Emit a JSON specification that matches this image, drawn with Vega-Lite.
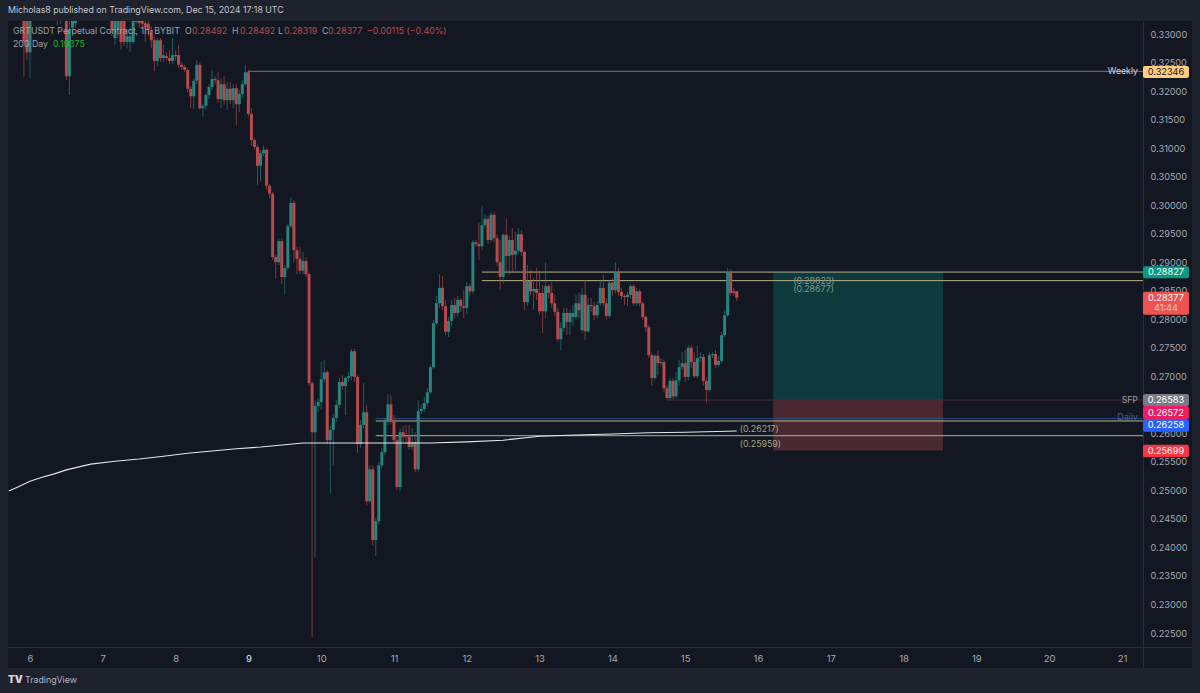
{
"$schema":"https://vega.github.io/schema/vega-lite/v6.json",
"autosize":{"type":"none"},
"padding":{"left":8,"top":21,"right":8,"bottom":25},
"width":1184,
"height":647,
"background":"#1e222d",
"title":{"text":"Micholas8 published on TradingView.com, Dec 15, 2024 17:18 UTC","anchor":"start","frame":"group","offset":6,"font":"Inter","fontSize":8.8,"fontWeight":"normal","color":"#c4c6ce"},
"config":{"view":{"fill":"#131722","stroke":null},"axis":{"title":null,"grid":false,"ticks":false,"domainColor":"#2a2e39"},"font":"Inter"},
"datasets":{
"boxes":[
{"start":"2024-12-16T05:00","end":"2024-12-18T13:00","top":0.28827,"bot":0.26583,"role":"greenbox"},
{"start":"2024-12-16T05:00","end":"2024-12-18T13:00","top":0.26583,"bot":0.25699,"role":"redbox"}],
"levels":[
{"start":"2024-12-09T00:00","end":"2024-12-21T06:55","p":0.32346,"role":"weekly"},
{"start":"2024-12-12T05:00","end":"2024-12-21T06:55","p":0.28827,"role":"level"},
{"start":"2024-12-12T05:00","end":"2024-12-21T06:55","p":0.28677,"role":"level"},
{"start":"2024-12-14T18:00","end":"2024-12-21T06:55","p":0.26583,"role":"sfp"},
{"start":"2024-12-10T18:00","end":"2024-12-21T06:55","p":0.26258,"role":"daily"},
{"start":"2024-12-10T18:00","end":"2024-12-21T06:55","p":0.26217,"role":"level"},
{"start":"2024-12-10T18:00","end":"2024-12-21T06:55","p":0.25959,"role":"level"}],
"candles":[
{"t":"2024-12-05T22:00","o":0.3342,"h":0.335,"l":0.3225,"c":0.3286},
{"t":"2024-12-05T23:00","o":0.3342,"h":0.335,"l":0.3254,"c":0.3268},
{"t":"2024-12-06T00:00","o":0.3268,"h":0.335,"l":0.3223,"c":0.3342},
{"t":"2024-12-06T09:00","o":0.3342,"h":0.335,"l":0.3316,"c":0.3323},
{"t":"2024-12-06T10:00","o":0.3323,"h":0.335,"l":0.3318,"c":0.3342},
{"t":"2024-12-06T12:00","o":0.3342,"h":0.335,"l":0.3219,"c":0.3226},
{"t":"2024-12-06T13:00","o":0.3226,"h":0.3342,"l":0.3193,"c":0.3307},
{"t":"2024-12-06T14:00","o":0.3311,"h":0.3342,"l":0.3302,"c":0.3333},
{"t":"2024-12-06T15:00","o":0.3319,"h":0.3342,"l":0.3311,"c":0.3333},
{"t":"2024-12-07T03:00","o":0.3342,"h":0.335,"l":0.3296,"c":0.3307},
{"t":"2024-12-07T04:00","o":0.3293,"h":0.3342,"l":0.3281,"c":0.3335},
{"t":"2024-12-07T05:00","o":0.3307,"h":0.335,"l":0.3293,"c":0.3342},
{"t":"2024-12-07T06:00","o":0.3335,"h":0.3342,"l":0.3272,"c":0.3286},
{"t":"2024-12-07T07:00","o":0.3335,"h":0.3342,"l":0.3279,"c":0.3286},
{"t":"2024-12-07T08:00","o":0.3286,"h":0.3307,"l":0.3275,"c":0.3296},
{"t":"2024-12-07T09:00","o":0.3286,"h":0.3311,"l":0.3268,"c":0.3296},
{"t":"2024-12-07T10:00","o":0.3286,"h":0.3335,"l":0.3282,"c":0.3325},
{"t":"2024-12-07T11:00","o":0.3321,"h":0.3333,"l":0.3318,"c":0.3326},
{"t":"2024-12-07T12:00","o":0.3326,"h":0.3333,"l":0.3311,"c":0.3319},
{"t":"2024-12-07T13:00","o":0.3325,"h":0.3328,"l":0.3311,"c":0.3318},
{"t":"2024-12-07T14:00","o":0.3319,"h":0.3325,"l":0.3286,"c":0.3312},
{"t":"2024-12-07T15:00","o":0.3318,"h":0.3323,"l":0.3296,"c":0.3307},
{"t":"2024-12-07T16:00","o":0.3307,"h":0.3314,"l":0.3275,"c":0.3289},
{"t":"2024-12-07T17:00","o":0.3289,"h":0.3296,"l":0.3235,"c":0.3253},
{"t":"2024-12-07T18:00","o":0.3253,"h":0.3293,"l":0.3244,"c":0.3289},
{"t":"2024-12-07T19:00","o":0.3289,"h":0.3293,"l":0.3251,"c":0.3258},
{"t":"2024-12-07T20:00","o":0.3258,"h":0.3281,"l":0.3251,"c":0.3263},
{"t":"2024-12-07T21:00","o":0.3261,"h":0.3268,"l":0.3254,"c":0.3258},
{"t":"2024-12-07T22:00","o":0.3258,"h":0.3272,"l":0.3247,"c":0.3253},
{"t":"2024-12-07T23:00","o":0.3253,"h":0.3293,"l":0.3247,"c":0.3263},
{"t":"2024-12-08T00:00","o":0.3261,"h":0.3272,"l":0.3254,"c":0.3263},
{"t":"2024-12-08T01:00","o":0.3263,"h":0.3281,"l":0.324,"c":0.3246},
{"t":"2024-12-08T02:00","o":0.3246,"h":0.3251,"l":0.3237,"c":0.3242},
{"t":"2024-12-08T03:00","o":0.3242,"h":0.3246,"l":0.3233,"c":0.3237},
{"t":"2024-12-08T04:00","o":0.3237,"h":0.324,"l":0.3198,"c":0.3204},
{"t":"2024-12-08T05:00","o":0.3204,"h":0.3209,"l":0.317,"c":0.3191},
{"t":"2024-12-08T06:00","o":0.3191,"h":0.3223,"l":0.3169,"c":0.3218},
{"t":"2024-12-08T07:00","o":0.3218,"h":0.3254,"l":0.3212,"c":0.3246},
{"t":"2024-12-08T08:00","o":0.3246,"h":0.3251,"l":0.3167,"c":0.317},
{"t":"2024-12-08T09:00","o":0.317,"h":0.3177,"l":0.3155,"c":0.3174},
{"t":"2024-12-08T10:00","o":0.3174,"h":0.3197,"l":0.3167,"c":0.3193},
{"t":"2024-12-08T11:00","o":0.3193,"h":0.3212,"l":0.3186,"c":0.3207},
{"t":"2024-12-08T12:00","o":0.3207,"h":0.3237,"l":0.3202,"c":0.3221},
{"t":"2024-12-08T13:00","o":0.3221,"h":0.3225,"l":0.3212,"c":0.3219},
{"t":"2024-12-08T14:00","o":0.3219,"h":0.3233,"l":0.3179,"c":0.3186},
{"t":"2024-12-08T15:00","o":0.3186,"h":0.3223,"l":0.317,"c":0.3212},
{"t":"2024-12-08T16:00","o":0.3212,"h":0.3226,"l":0.3176,"c":0.3184},
{"t":"2024-12-08T17:00","o":0.3184,"h":0.3216,"l":0.3167,"c":0.3204},
{"t":"2024-12-08T18:00","o":0.3204,"h":0.3216,"l":0.3177,"c":0.3184},
{"t":"2024-12-08T19:00","o":0.3184,"h":0.3212,"l":0.317,"c":0.3205},
{"t":"2024-12-08T20:00","o":0.3205,"h":0.3212,"l":0.314,"c":0.3177},
{"t":"2024-12-08T21:00","o":0.3177,"h":0.3202,"l":0.3163,"c":0.3195},
{"t":"2024-12-08T22:00","o":0.3195,"h":0.3219,"l":0.3188,"c":0.3212},
{"t":"2024-12-08T23:00","o":0.3212,"h":0.3246,"l":0.3209,"c":0.3233},
{"t":"2024-12-09T00:00","o":0.3233,"h":0.3237,"l":0.3155,"c":0.316},
{"t":"2024-12-09T01:00","o":0.316,"h":0.317,"l":0.3104,"c":0.3114},
{"t":"2024-12-09T02:00","o":0.3114,"h":0.3118,"l":0.3097,"c":0.3102},
{"t":"2024-12-09T03:00","o":0.3102,"h":0.3107,"l":0.3035,"c":0.3069},
{"t":"2024-12-09T04:00","o":0.3069,"h":0.3097,"l":0.3041,"c":0.3091},
{"t":"2024-12-09T05:00","o":0.3091,"h":0.3105,"l":0.3086,"c":0.3097},
{"t":"2024-12-09T06:00","o":0.3097,"h":0.31,"l":0.3027,"c":0.3034},
{"t":"2024-12-09T07:00","o":0.3034,"h":0.3037,"l":0.3012,"c":0.302},
{"t":"2024-12-09T08:00","o":0.302,"h":0.3023,"l":0.2904,"c":0.2909},
{"t":"2024-12-09T09:00","o":0.2909,"h":0.2914,"l":0.2872,"c":0.29},
{"t":"2024-12-09T10:00","o":0.29,"h":0.2942,"l":0.2895,"c":0.2937},
{"t":"2024-12-09T11:00","o":0.2937,"h":0.2942,"l":0.2862,"c":0.2874},
{"t":"2024-12-09T12:00","o":0.2874,"h":0.2895,"l":0.2844,"c":0.289},
{"t":"2024-12-09T13:00","o":0.289,"h":0.2967,"l":0.2886,"c":0.2963},
{"t":"2024-12-09T14:00","o":0.2963,"h":0.3014,"l":0.296,"c":0.3004},
{"t":"2024-12-09T15:00","o":0.3004,"h":0.3009,"l":0.29,"c":0.2921},
{"t":"2024-12-09T16:00","o":0.2921,"h":0.2927,"l":0.2879,"c":0.2906},
{"t":"2024-12-09T17:00","o":0.2906,"h":0.2927,"l":0.2879,"c":0.2885},
{"t":"2024-12-09T18:00","o":0.2885,"h":0.2918,"l":0.2879,"c":0.2902},
{"t":"2024-12-09T19:00","o":0.2902,"h":0.2909,"l":0.2874,"c":0.2879},
{"t":"2024-12-09T20:00","o":0.2879,"h":0.2882,"l":0.2683,"c":0.2688},
{"t":"2024-12-09T21:00","o":0.2688,"h":0.2691,"l":0.2243,"c":0.2602},
{"t":"2024-12-09T22:00","o":0.2602,"h":0.2658,"l":0.2383,"c":0.2648},
{"t":"2024-12-09T23:00","o":0.2648,"h":0.2662,"l":0.2637,"c":0.2655},
{"t":"2024-12-10T00:00","o":0.2655,"h":0.2725,"l":0.2641,"c":0.2695},
{"t":"2024-12-10T01:00","o":0.2695,"h":0.2729,"l":0.269,"c":0.2707},
{"t":"2024-12-10T02:00","o":0.2707,"h":0.2711,"l":0.2581,"c":0.2588},
{"t":"2024-12-10T03:00","o":0.2588,"h":0.2613,"l":0.2495,"c":0.2606},
{"t":"2024-12-10T04:00","o":0.2606,"h":0.2634,"l":0.2544,"c":0.2627},
{"t":"2024-12-10T05:00","o":0.2627,"h":0.2658,"l":0.262,"c":0.265},
{"t":"2024-12-10T06:00","o":0.265,"h":0.2697,"l":0.2644,"c":0.269},
{"t":"2024-12-10T07:00","o":0.269,"h":0.2702,"l":0.2676,"c":0.2683},
{"t":"2024-12-10T08:00","o":0.2683,"h":0.27,"l":0.2632,"c":0.2697},
{"t":"2024-12-10T09:00","o":0.2697,"h":0.2707,"l":0.269,"c":0.27},
{"t":"2024-12-10T10:00","o":0.27,"h":0.2748,"l":0.2693,"c":0.2744},
{"t":"2024-12-10T11:00","o":0.2744,"h":0.2748,"l":0.269,"c":0.2699},
{"t":"2024-12-10T12:00","o":0.2699,"h":0.2702,"l":0.2566,"c":0.2581},
{"t":"2024-12-10T13:00","o":0.2581,"h":0.2623,"l":0.2574,"c":0.2615},
{"t":"2024-12-10T14:00","o":0.2615,"h":0.2688,"l":0.2609,"c":0.2637},
{"t":"2024-12-10T15:00","o":0.2637,"h":0.265,"l":0.2474,"c":0.2481},
{"t":"2024-12-10T16:00","o":0.2481,"h":0.2544,"l":0.2478,"c":0.2537},
{"t":"2024-12-10T17:00","o":0.2537,"h":0.2544,"l":0.2404,"c":0.2413},
{"t":"2024-12-10T18:00","o":0.2413,"h":0.2452,"l":0.2385,"c":0.2446},
{"t":"2024-12-10T19:00","o":0.2446,"h":0.255,"l":0.2441,"c":0.2544},
{"t":"2024-12-10T20:00","o":0.2544,"h":0.2574,"l":0.2539,"c":0.2567},
{"t":"2024-12-10T21:00","o":0.2567,"h":0.2627,"l":0.2562,"c":0.2622},
{"t":"2024-12-10T22:00","o":0.2622,"h":0.2669,"l":0.2615,"c":0.2651},
{"t":"2024-12-10T23:00","o":0.2651,"h":0.2667,"l":0.2616,"c":0.2623},
{"t":"2024-12-11T00:00","o":0.2623,"h":0.2632,"l":0.2581,"c":0.2588},
{"t":"2024-12-11T01:00","o":0.2588,"h":0.2595,"l":0.2501,"c":0.2506},
{"t":"2024-12-11T02:00","o":0.2506,"h":0.2609,"l":0.2499,"c":0.2602},
{"t":"2024-12-11T03:00","o":0.2602,"h":0.2613,"l":0.2585,"c":0.2594},
{"t":"2024-12-11T04:00","o":0.2595,"h":0.2615,"l":0.2585,"c":0.2594},
{"t":"2024-12-11T05:00","o":0.2594,"h":0.2615,"l":0.2571,"c":0.2576},
{"t":"2024-12-11T06:00","o":0.2576,"h":0.2609,"l":0.2571,"c":0.2585},
{"t":"2024-12-11T07:00","o":0.2585,"h":0.2602,"l":0.2532,"c":0.2537},
{"t":"2024-12-11T08:00","o":0.2537,"h":0.2658,"l":0.2532,"c":0.2639},
{"t":"2024-12-11T09:00","o":0.2639,"h":0.2651,"l":0.2634,"c":0.2643},
{"t":"2024-12-11T10:00","o":0.2643,"h":0.2664,"l":0.2637,"c":0.2653},
{"t":"2024-12-11T11:00","o":0.2653,"h":0.2679,"l":0.2648,"c":0.2672},
{"t":"2024-12-11T12:00","o":0.2672,"h":0.272,"l":0.2669,"c":0.2716},
{"t":"2024-12-11T13:00","o":0.2716,"h":0.2799,"l":0.2713,"c":0.2793},
{"t":"2024-12-11T14:00","o":0.2793,"h":0.2841,"l":0.279,"c":0.2828},
{"t":"2024-12-11T15:00","o":0.2828,"h":0.2879,"l":0.282,"c":0.2855},
{"t":"2024-12-11T16:00","o":0.2855,"h":0.2876,"l":0.2816,"c":0.2823},
{"t":"2024-12-11T17:00","o":0.2823,"h":0.2834,"l":0.2772,"c":0.2778},
{"t":"2024-12-11T18:00","o":0.2778,"h":0.2804,"l":0.2769,"c":0.2797},
{"t":"2024-12-11T19:00","o":0.2797,"h":0.2834,"l":0.2788,"c":0.2825},
{"t":"2024-12-11T20:00","o":0.2825,"h":0.2837,"l":0.2802,"c":0.2811},
{"t":"2024-12-11T21:00","o":0.2811,"h":0.2841,"l":0.2804,"c":0.2834},
{"t":"2024-12-11T22:00","o":0.2834,"h":0.2837,"l":0.2813,"c":0.2823},
{"t":"2024-12-11T23:00","o":0.2823,"h":0.2851,"l":0.2802,"c":0.282},
{"t":"2024-12-12T00:00","o":0.282,"h":0.2865,"l":0.2809,"c":0.2858},
{"t":"2024-12-12T01:00","o":0.2858,"h":0.2862,"l":0.2841,"c":0.2849},
{"t":"2024-12-12T02:00","o":0.2849,"h":0.2939,"l":0.2844,"c":0.2935},
{"t":"2024-12-12T03:00","o":0.2935,"h":0.2939,"l":0.2928,"c":0.2932},
{"t":"2024-12-12T04:00","o":0.2932,"h":0.297,"l":0.2904,"c":0.2928},
{"t":"2024-12-12T05:00","o":0.2928,"h":0.2999,"l":0.2921,"c":0.2965},
{"t":"2024-12-12T06:00","o":0.2965,"h":0.2984,"l":0.296,"c":0.2976},
{"t":"2024-12-12T07:00","o":0.2976,"h":0.2981,"l":0.2932,"c":0.2939},
{"t":"2024-12-12T08:00","o":0.2939,"h":0.2988,"l":0.2935,"c":0.2983},
{"t":"2024-12-12T09:00","o":0.2983,"h":0.2988,"l":0.2935,"c":0.2942},
{"t":"2024-12-12T10:00","o":0.2942,"h":0.2949,"l":0.2893,"c":0.29},
{"t":"2024-12-12T11:00","o":0.29,"h":0.2939,"l":0.2851,"c":0.2874},
{"t":"2024-12-12T12:00","o":0.2874,"h":0.2951,"l":0.2862,"c":0.2948},
{"t":"2024-12-12T13:00","o":0.2948,"h":0.2977,"l":0.2883,"c":0.2911},
{"t":"2024-12-12T14:00","o":0.2911,"h":0.2946,"l":0.2877,"c":0.2939},
{"t":"2024-12-12T15:00","o":0.2939,"h":0.296,"l":0.2883,"c":0.2913},
{"t":"2024-12-12T16:00","o":0.2913,"h":0.2953,"l":0.2886,"c":0.292},
{"t":"2024-12-12T17:00","o":0.292,"h":0.296,"l":0.2914,"c":0.2949},
{"t":"2024-12-12T18:00","o":0.2949,"h":0.2956,"l":0.2911,"c":0.2918},
{"t":"2024-12-12T19:00","o":0.2918,"h":0.2921,"l":0.2816,"c":0.283},
{"t":"2024-12-12T20:00","o":0.283,"h":0.2895,"l":0.2823,"c":0.2867},
{"t":"2024-12-12T21:00","o":0.2867,"h":0.2886,"l":0.2841,"c":0.2849},
{"t":"2024-12-12T22:00","o":0.2849,"h":0.2872,"l":0.2816,"c":0.2853},
{"t":"2024-12-12T23:00","o":0.2853,"h":0.289,"l":0.2834,"c":0.2846},
{"t":"2024-12-13T00:00","o":0.2846,"h":0.2881,"l":0.2807,"c":0.2814},
{"t":"2024-12-13T01:00","o":0.2846,"h":0.286,"l":0.2776,"c":0.2814},
{"t":"2024-12-13T02:00","o":0.2814,"h":0.29,"l":0.2802,"c":0.2858},
{"t":"2024-12-13T03:00","o":0.2858,"h":0.2862,"l":0.2837,"c":0.2846},
{"t":"2024-12-13T04:00","o":0.2846,"h":0.2865,"l":0.282,"c":0.2828},
{"t":"2024-12-13T05:00","o":0.2828,"h":0.2843,"l":0.2805,"c":0.2813},
{"t":"2024-12-13T06:00","o":0.2813,"h":0.282,"l":0.276,"c":0.2765},
{"t":"2024-12-13T07:00","o":0.2765,"h":0.2795,"l":0.2746,"c":0.2785},
{"t":"2024-12-13T08:00","o":0.2785,"h":0.282,"l":0.2778,"c":0.2811},
{"t":"2024-12-13T09:00","o":0.2811,"h":0.282,"l":0.2772,"c":0.2795},
{"t":"2024-12-13T10:00","o":0.2795,"h":0.2816,"l":0.2772,"c":0.2811},
{"t":"2024-12-13T11:00","o":0.2804,"h":0.2825,"l":0.2788,"c":0.2811},
{"t":"2024-12-13T12:00","o":0.2804,"h":0.2843,"l":0.2799,"c":0.2828},
{"t":"2024-12-13T13:00","o":0.2828,"h":0.2846,"l":0.2802,"c":0.2816},
{"t":"2024-12-13T14:00","o":0.2781,"h":0.2855,"l":0.2776,"c":0.2843},
{"t":"2024-12-13T15:00","o":0.2843,"h":0.2869,"l":0.2764,"c":0.2779},
{"t":"2024-12-13T16:00","o":0.2779,"h":0.2837,"l":0.2776,"c":0.2825},
{"t":"2024-12-13T17:00","o":0.2825,"h":0.2837,"l":0.2813,"c":0.2823},
{"t":"2024-12-13T18:00","o":0.2823,"h":0.283,"l":0.2799,"c":0.2807},
{"t":"2024-12-13T19:00","o":0.2807,"h":0.283,"l":0.2802,"c":0.2825},
{"t":"2024-12-13T20:00","o":0.2828,"h":0.2869,"l":0.2823,"c":0.2855},
{"t":"2024-12-13T21:00","o":0.2855,"h":0.2878,"l":0.2823,"c":0.2828},
{"t":"2024-12-13T22:00","o":0.2828,"h":0.2837,"l":0.2799,"c":0.2806},
{"t":"2024-12-13T23:00","o":0.2806,"h":0.2869,"l":0.2802,"c":0.2864},
{"t":"2024-12-14T00:00","o":0.2864,"h":0.2872,"l":0.2841,"c":0.2851},
{"t":"2024-12-14T01:00","o":0.2851,"h":0.29,"l":0.2846,"c":0.2883},
{"t":"2024-12-14T02:00","o":0.2883,"h":0.289,"l":0.2841,"c":0.2848},
{"t":"2024-12-14T03:00","o":0.2848,"h":0.2855,"l":0.2835,"c":0.2841},
{"t":"2024-12-14T04:00","o":0.2841,"h":0.2844,"l":0.2825,"c":0.2839},
{"t":"2024-12-14T05:00","o":0.2839,"h":0.2848,"l":0.2823,"c":0.2843},
{"t":"2024-12-14T06:00","o":0.2843,"h":0.2862,"l":0.2837,"c":0.2858},
{"t":"2024-12-14T07:00","o":0.2858,"h":0.2862,"l":0.2823,"c":0.2828},
{"t":"2024-12-14T08:00","o":0.2828,"h":0.2855,"l":0.2823,"c":0.2849},
{"t":"2024-12-14T09:00","o":0.2849,"h":0.2853,"l":0.2823,"c":0.2828},
{"t":"2024-12-14T10:00","o":0.2828,"h":0.2832,"l":0.2799,"c":0.2804},
{"t":"2024-12-14T11:00","o":0.2804,"h":0.2807,"l":0.2778,"c":0.2786},
{"t":"2024-12-14T12:00","o":0.2786,"h":0.279,"l":0.2732,"c":0.2737},
{"t":"2024-12-14T13:00","o":0.2737,"h":0.2742,"l":0.2683,"c":0.2697},
{"t":"2024-12-14T14:00","o":0.2697,"h":0.2739,"l":0.2693,"c":0.2736},
{"t":"2024-12-14T15:00","o":0.2736,"h":0.2746,"l":0.2702,"c":0.2723},
{"t":"2024-12-14T16:00","o":0.2723,"h":0.2732,"l":0.2718,"c":0.2725},
{"t":"2024-12-14T17:00","o":0.2725,"h":0.2729,"l":0.2672,"c":0.2679},
{"t":"2024-12-14T18:00","o":0.2679,"h":0.2684,"l":0.2658,"c":0.2662},
{"t":"2024-12-14T19:00","o":0.2662,"h":0.2697,"l":0.2658,"c":0.2692},
{"t":"2024-12-14T20:00","o":0.2692,"h":0.2697,"l":0.266,"c":0.2665},
{"t":"2024-12-14T21:00","o":0.2665,"h":0.2707,"l":0.2662,"c":0.2693},
{"t":"2024-12-14T22:00","o":0.2693,"h":0.2729,"l":0.2684,"c":0.2716},
{"t":"2024-12-14T23:00","o":0.2716,"h":0.2742,"l":0.2711,"c":0.2723},
{"t":"2024-12-15T00:00","o":0.2723,"h":0.2746,"l":0.269,"c":0.2699},
{"t":"2024-12-15T01:00","o":0.2699,"h":0.2755,"l":0.2693,"c":0.275},
{"t":"2024-12-15T02:00","o":0.275,"h":0.2755,"l":0.2714,"c":0.2725},
{"t":"2024-12-15T03:00","o":0.2725,"h":0.2742,"l":0.2697,"c":0.27},
{"t":"2024-12-15T04:00","o":0.27,"h":0.2753,"l":0.2697,"c":0.2732},
{"t":"2024-12-15T05:00","o":0.2732,"h":0.2742,"l":0.2725,"c":0.2734},
{"t":"2024-12-15T06:00","o":0.2734,"h":0.2739,"l":0.2684,"c":0.2692},
{"t":"2024-12-15T07:00","o":0.2692,"h":0.2697,"l":0.2653,"c":0.2676},
{"t":"2024-12-15T08:00","o":0.2676,"h":0.2742,"l":0.2672,"c":0.2737},
{"t":"2024-12-15T09:00","o":0.2737,"h":0.2742,"l":0.2732,"c":0.2739},
{"t":"2024-12-15T10:00","o":0.2739,"h":0.2746,"l":0.2714,"c":0.272},
{"t":"2024-12-15T11:00","o":0.272,"h":0.2736,"l":0.2716,"c":0.2727},
{"t":"2024-12-15T12:00","o":0.2727,"h":0.2778,"l":0.2723,"c":0.2772},
{"t":"2024-12-15T13:00","o":0.2772,"h":0.2816,"l":0.2769,"c":0.2807},
{"t":"2024-12-15T14:00","o":0.2807,"h":0.289,"l":0.2804,"c":0.2883},
{"t":"2024-12-15T15:00","o":0.2883,"h":0.2888,"l":0.2841,"c":0.2846},
{"t":"2024-12-15T16:00","o":0.2849,"h":0.2855,"l":0.2841,"c":0.2846},
{"t":"2024-12-15T17:00","o":0.28492,"h":0.28492,"l":0.28319,"c":0.28377}],
"ma":[
{"t":"2024-12-05T17:00","v":0.2499},
{"t":"2024-12-05T20:00","v":0.2506},
{"t":"2024-12-06T00:00","v":0.2516},
{"t":"2024-12-06T04:00","v":0.2523},
{"t":"2024-12-06T08:00","v":0.2529},
{"t":"2024-12-06T12:00","v":0.2536},
{"t":"2024-12-06T20:00","v":0.2546},
{"t":"2024-12-07T04:00","v":0.2551},
{"t":"2024-12-07T12:00","v":0.2555},
{"t":"2024-12-07T20:00","v":0.256},
{"t":"2024-12-08T04:00","v":0.2565},
{"t":"2024-12-08T12:00","v":0.2569},
{"t":"2024-12-08T20:00","v":0.2573},
{"t":"2024-12-09T04:00","v":0.2576},
{"t":"2024-12-09T12:00","v":0.258},
{"t":"2024-12-09T18:00","v":0.2583},
{"t":"2024-12-10T00:00","v":0.2583},
{"t":"2024-12-10T12:00","v":0.2583},
{"t":"2024-12-11T00:00","v":0.2583},
{"t":"2024-12-11T12:00","v":0.2583},
{"t":"2024-12-12T00:00","v":0.2585},
{"t":"2024-12-12T12:00","v":0.2588},
{"t":"2024-12-13T00:00","v":0.2595},
{"t":"2024-12-13T12:00","v":0.2597},
{"t":"2024-12-14T00:00","v":0.2599},
{"t":"2024-12-14T12:00","v":0.2601},
{"t":"2024-12-15T00:00","v":0.2602},
{"t":"2024-12-15T17:00","v":0.2604}],
"tags":[
{"start":"2024-12-21T06:55","end":"2024-12-21T22:05","top":0.3244,"bot":0.3223,"role":"tagW"},
{"start":"2024-12-21T06:55","end":"2024-12-21T22:05","top":0.2893,"bot":0.2872,"role":"tagG"},
{"start":"2024-12-21T06:55","end":"2024-12-21T22:05","top":0.2848,"bot":0.2808,"role":"tagR"},
{"start":"2024-12-21T06:55","end":"2024-12-21T22:05","top":0.2669,"bot":0.2648,"role":"tagS"},
{"start":"2024-12-21T06:55","end":"2024-12-21T22:05","top":0.2648,"bot":0.2625,"role":"tagP"},
{"start":"2024-12-21T06:55","end":"2024-12-21T22:05","top":0.2625,"bot":0.2603,"role":"tagB"},
{"start":"2024-12-21T06:55","end":"2024-12-21T22:05","top":0.258,"bot":0.2558,"role":"tagL"}],
"tagText":[
{"t":"2024-12-21T14:30","p":0.3234,"label":"0.32346","role":"txDark"},
{"t":"2024-12-21T14:30","p":0.28827,"label":"0.28827","role":"tx"},
{"t":"2024-12-21T14:30","p":0.2837,"label":"0.28377","role":"tx"},
{"t":"2024-12-21T14:30","p":0.282,"label":"41:44","role":"timer"},
{"t":"2024-12-21T14:30","p":0.2658,"label":"0.26583","role":"tx"},
{"t":"2024-12-21T14:30","p":0.2636,"label":"0.26572","role":"tx"},
{"t":"2024-12-21T14:30","p":0.2614,"label":"0.26258","role":"tx"},
{"t":"2024-12-21T14:30","p":0.2569,"label":"0.25699","role":"tx"}],
"endLabels":[
{"t":"2024-12-21T05:15","p":0.32346,"label":"Weekly","role":"wl"},
{"t":"2024-12-21T05:15","p":0.26583,"label":"SFP","role":"sf"},
{"t":"2024-12-21T05:15","p":0.2628,"label":"Daily","role":"dl"}],
"notes":[
{"t":"2024-12-16T11:36","p":0.2867,"label":"(0.28823)","role":"note"},
{"t":"2024-12-16T11:36","p":0.2853,"label":"(0.28677)","role":"note"},
{"t":"2024-12-15T18:00","p":0.2608,"label":"(0.26217)","role":"note2"},
{"t":"2024-12-15T18:00","p":0.2581,"label":"(0.25959)","role":"note2"},
{"t":"2024-12-05T18:24","p":0.33053,"label":"GRTUSDT Perpetual Contract, 1h, BYBIT","role":"grey"},
{"t":"2024-12-08T03:06","p":0.33053,"label":"O","role":"grey"},
{"t":"2024-12-08T05:24","p":0.33053,"label":"0.28492","role":"value"},
{"t":"2024-12-08T18:36","p":0.33053,"label":"H","role":"grey"},
{"t":"2024-12-08T21:14","p":0.33053,"label":"0.28492","role":"value"},
{"t":"2024-12-09T09:46","p":0.33053,"label":"L","role":"grey"},
{"t":"2024-12-09T11:45","p":0.33053,"label":"0.28319","role":"value"},
{"t":"2024-12-10T00:16","p":0.33053,"label":"C","role":"grey"},
{"t":"2024-12-10T02:15","p":0.33053,"label":"0.28377","role":"value"},
{"t":"2024-12-10T15:07","p":0.33053,"label":"−0.00115 (−0.40%)","role":"value"},
{"t":"2024-12-05T18:24","p":0.32825,"label":"200 Day","role":"grey"},
{"t":"2024-12-06T07:35","p":0.32825,"label":"0.19375","role":"ma200"},
{"t":"2024-12-05T22:21","p":0.2168,"label":"TradingView","role":"brand"}],
"logo":[
{"t":"2024-12-05T16:45","p":0.2168,"label":"TV","role":"wl"}]
},
"encoding":{"color":{"field":"role","type":"nominal","legend":null,"scale":{
"domain":["greenbox","redbox","level","weekly","daily","sfp","tagW","tagG","tagR","tagS","tagP","tagB","tagL","tx","txDark","timer","wl","sf","dl","note","note2","grey","value","ma200","brand"],
"range":["#0e3a3d","#4a2a30","#b5b285","#7a796e","#2e4d86","#4b2b3a","#ffcc80","#089981","#ef5350","#787b86","#e91e63","#2962ff","#f23645","#ffffff","#131722","#f5c6c6","#d1d4dc","#a09aa0","#3d5ea6","#7f9a8c","#a8a585","#9da0a8","#bb4a4f","#1fb51f","#b2b5be"]}}},
"layer":[
{"data":{"name":"boxes"},"mark":{"type":"rect"},"encoding":{
"x":{"field":"start","type":"temporal","scale":{"padding":0,"domain":[{"year":2024,"month":12,"date":5,"hours":16,"minutes":45},{"year":2024,"month":12,"date":21,"hours":23,"minutes":5}]},
"axis":{"orient":"bottom","offset":-21,"format":"%-d","tickCount":40,"values":[{"year":2024,"month":12,"date":6},{"year":2024,"month":12,"date":7},{"year":2024,"month":12,"date":8},{"year":2024,"month":12,"date":9},{"year":2024,"month":12,"date":10},{"year":2024,"month":12,"date":11},{"year":2024,"month":12,"date":12},{"year":2024,"month":12,"date":13},{"year":2024,"month":12,"date":14},{"year":2024,"month":12,"date":15},{"year":2024,"month":12,"date":16},{"year":2024,"month":12,"date":17},{"year":2024,"month":12,"date":18},{"year":2024,"month":12,"date":19},{"year":2024,"month":12,"date":20},{"year":2024,"month":12,"date":21}],"labelFont":"Inter","labelFontSize":9.5,"labelColor":{"condition":{"test":"datum.label=='9'","value":"#e0e3eb"},"value":"#a6a9b2"},"labelPadding":6,"labelOverlap":false,"labelFlush":false}},
"x2":{"field":"end"},
"y":{"field":"top","type":"quantitative","scale":{"domain":[0.21887,0.33228],"nice":false,"zero":false,"padding":0},
"axis":{"orient":"right","offset":-49,"tickCount":40,"values":[0.225,0.23,0.235,0.24,0.245,0.25,0.255,0.26,0.265,0.27,0.275,0.28,0.285,0.29,0.295,0.3,0.305,0.31,0.315,0.32,0.325,0.33],"format":".5f","labelFont":"Inter","labelFontSize":9.2,"labelColor":"#a6a9b2","labelPadding":7,"labelOverlap":false,"labelFlush":false}},
"y2":{"field":"bot"}}},
{"data":{"name":"levels"},"mark":{"type":"rule","strokeWidth":1},"encoding":{
"x":{"field":"start","type":"temporal"},"x2":{"field":"end"},"y":{"field":"p","type":"quantitative"}}},
{"data":{"name":"candles"},"mark":{"type":"rule","strokeWidth":1,"opacity":0.65,"clip":true},"encoding":{
"x":{"field":"t","type":"temporal"},"y":{"field":"l","type":"quantitative"},"y2":{"field":"h"},
"color":{"condition":{"test":"datum.c>=datum.o","value":"#26857f"},"value":"#b84a4d"}}},
{"data":{"name":"candles"},"mark":{"type":"bar","size":3,"clip":true},"encoding":{
"x":{"field":"t","type":"temporal"},"y":{"field":"o","type":"quantitative"},"y2":{"field":"c"},
"color":{"condition":{"test":"datum.c>=datum.o","value":"#26857f"},"value":"#b84a4d"}}},
{"data":{"name":"ma"},"mark":{"type":"line","strokeWidth":1.1,"clip":true},"encoding":{
"x":{"field":"t","type":"temporal"},"y":{"field":"v","type":"quantitative"},"color":{"value":"#e6e6e6"}}},
{"data":{"name":"tags"},"mark":{"type":"rect","cornerRadius":2},"encoding":{
"x":{"field":"start","type":"temporal"},"x2":{"field":"end"},"y":{"field":"top","type":"quantitative"},"y2":{"field":"bot"}}},
{"data":{"name":"tagText"},"mark":{"type":"text","align":"center","baseline":"middle","fontSize":9.2,"font":"Inter"},"encoding":{
"x":{"field":"t","type":"temporal"},"y":{"field":"p","type":"quantitative"},"text":{"field":"label"}}},
{"data":{"name":"endLabels"},"mark":{"type":"text","align":"right","baseline":"middle","fontSize":8.7,"font":"Inter"},"encoding":{
"x":{"field":"t","type":"temporal"},"y":{"field":"p","type":"quantitative"},"text":{"field":"label"}}},
{"data":{"name":"notes"},"mark":{"type":"text","align":"left","baseline":"middle","fontSize":8.8,"font":"Inter"},"encoding":{
"x":{"field":"t","type":"temporal"},"y":{"field":"p","type":"quantitative"},"text":{"field":"label"}}},
{"data":{"name":"logo"},"mark":{"type":"text","align":"left","baseline":"middle","fontSize":10,"fontWeight":900,"font":"Inter"},"encoding":{
"x":{"field":"t","type":"temporal"},"y":{"field":"p","type":"quantitative"},"text":{"field":"label"}}}
]
}
